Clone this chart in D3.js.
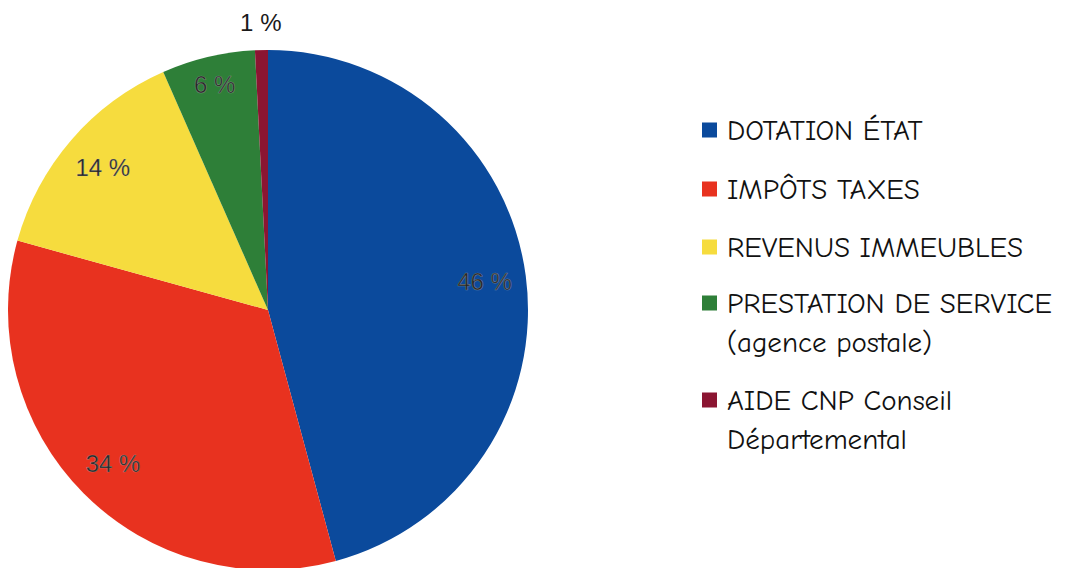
<!DOCTYPE html>
<html>
<head>
<meta charset="utf-8">
<script src="https://cdn.jsdelivr.net/npm/d3@7"></script>
<style>
  html, body { margin: 0; padding: 0; background: #fff; }
  svg { display: block; }
</style>
</head>
<body>
<svg id="chart" width="1069" height="568"></svg>
<script>
const categories = ["DOTATION ÉTAT", "IMPÔTS TAXES", "REVENUS IMMEUBLES", "PRESTATION DE SERVICE (agence postale)", "AIDE CNP Conseil Départemental"];
const legendLines = [["DOTATION ÉTAT"], ["IMPÔTS TAXES"], ["REVENUS IMMEUBLES"], ["PRESTATION DE SERVICE", "(agence postale)"], ["AIDE CNP Conseil", "Départemental"]];
const values = [45.8, 33.5, 14.1, 5.8, 0.8];
const colors = ["#0b4a9c", "#e8321f", "#f6dc3e", "#2e7f38", "#8b1532"];

const svg = d3.select("#chart");
const cx = 268, cy = 310, R = 260;

const pie = d3.pie().sort(null).value(d => d)(values);
const arc = d3.arc().innerRadius(0).outerRadius(R);

const g = svg.append("g").attr("transform", `translate(${cx},${cy})`);
g.selectAll("path.slice").data(pie).join("path")
  .attr("class", "slice")
  .attr("d", arc)
  .attr("fill", (d, i) => colors[i]);

const total = d3.sum(values);
const labelArc = d3.arc().innerRadius(R * 0.84).outerRadius(R * 0.84);
const smallArc = d3.arc().innerRadius(R * 0.89).outerRadius(R * 0.89);
const outerArc = d3.arc().innerRadius(R + 27).outerRadius(R + 27);
g.selectAll("text.lab").data(pie).join("text")
  .attr("class", "lab")
  .attr("transform", (d) => {
    const share = d.value / total;
    const p = share < 0.02 ? outerArc.centroid(d) : (share < 0.1 ? smallArc.centroid(d) : labelArc.centroid(d));
    return `translate(${p[0]},${p[1]})`;
  })
  .attr("text-anchor", "middle")
  .attr("dy", "0.35em")
  .attr("font-family", "'Liberation Sans', Arial, sans-serif")
  .attr("font-size", 24)
  .attr("fill", (d) => d.value / total < 0.02 ? "#1a1a1a" : "#262626")
  .attr("stroke", (d) => d.value / total < 0.02 ? "none" : "rgba(190,190,190,0.45)")
  .attr("stroke-width", 0.7)
  .text(d => Math.round(d.value / total * 100) + " %");

// Legend
const rowY = [130, 189, 247, 303, 400];
const lineGap = 39;
const leg = svg.append("g");
legendLines.forEach((lines, i) => {
  leg.append("rect")
    .attr("x", 702).attr("y", rowY[i] - 7.5)
    .attr("width", 15).attr("height", 15)
    .attr("fill", colors[i]);
  lines.forEach((t, j) => {
    leg.append("text")
      .attr("x", 727).attr("y", rowY[i] + j * lineGap)
      .attr("dy", "0.36em")
      .attr("font-family", "'Comic Sans MS', 'Comic Neue', cursive, 'DejaVu Sans', sans-serif")
      .attr("font-size", 29)
      .attr("fill", "#111")
      .text(t);
  });
});
</script>
</body>
</html>
